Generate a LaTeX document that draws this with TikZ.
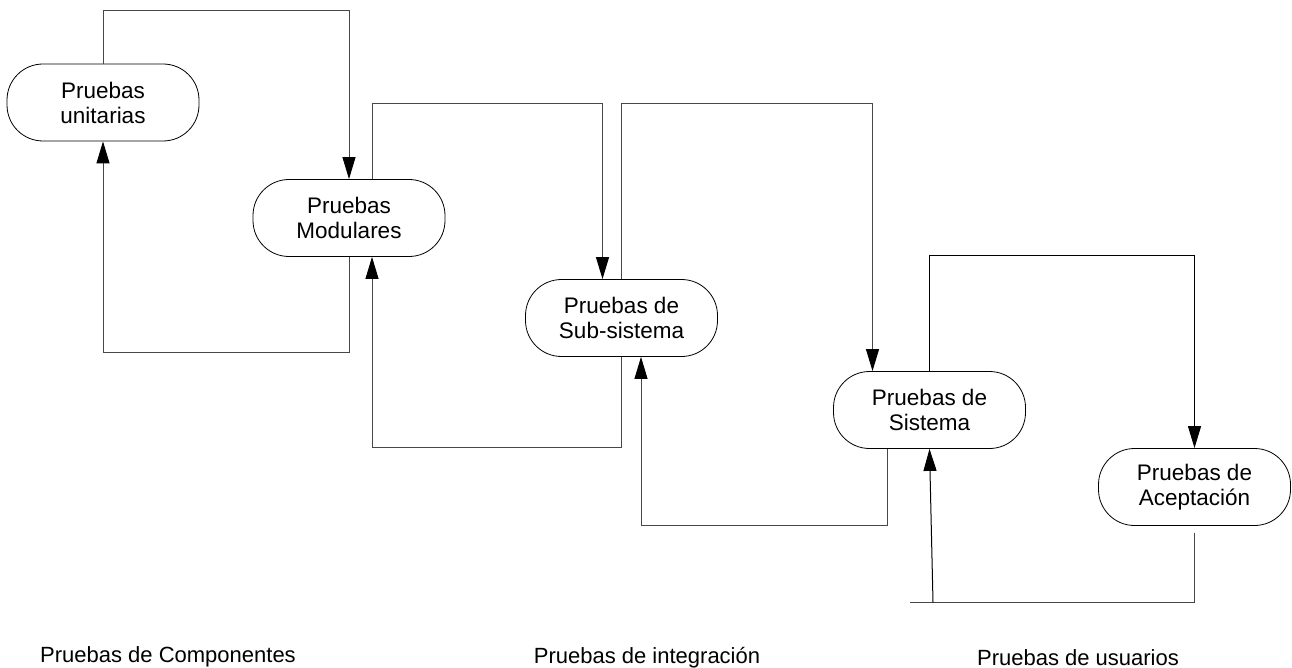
\documentclass[tikz,border=0pt]{standalone}
\usepackage{fontspec}
\setmainfont{Liberation Sans}
\usetikzlibrary{arrows.meta, positioning}

\begin{document}
\begin{tikzpicture}[x=1pt, y=-1pt, >={Triangle[length=22pt, width=13pt, color=black]},
		fase/.style={rectangle, rounded corners=36pt, draw=black, fill=white, line width=0.8pt, minimum width=192pt, minimum height=77pt, align=center, font=\fontsize{22.5}{25}\selectfont},
		flujo/.style={draw=black!72, line width=1pt},
		etiqueta/.style={anchor=base, font=\fontsize{22}{25}\selectfont}]
		
		\useasboundingbox (0,0) rectangle (1292,668);
		
		% Fases
		\node[fase] (unit) at (103, 102.5) {Pruebas\\unitarias};
		\node[fase] (modul) at (349, 218) {Pruebas\\Modulares};
		\node[fase] (subsis) at (621.5, 318) {Pruebas de\\Sub-sistema};
		\node[fase] (sis) at (929.5, 410) {Pruebas de\\Sistema};
		\node[fase] (acept) at (1194.5, 487) {Pruebas de\\Aceptaci\'on};
		
		% Puntos libres
		\coordinate (cola) at (910, 602.5);
		\coordinate (union) at (933, 602.5);
		
		% Avance
		\draw[flujo, ->] (unit.north) -- ++(0,-53) -| (modul.north);
		\draw[flujo, ->] ([xshift=23pt]modul.north) -- ++(0,-76) -| ([xshift=-19pt]subsis.north);
		\draw[flujo, ->] (subsis.north) -- ++(0,-176) -| ([xshift=-57pt]sis.north);
		\draw[flujo, draw=black, ->] (sis.north) -- ++(0,-116) -| (acept.north);
		
		% Retorno
		\draw[flujo, ->] (modul.south) -- ++(0,96) -| (unit.south);
		\draw[flujo, ->] (subsis.south) -- ++(0,91) -| ([xshift=23pt]modul.south);
		\draw[flujo, ->] ([xshift=-42pt]sis.south) -- ++(0,77) -| ([xshift=19.5pt]subsis.south);
		\draw[flujo] ([yshift=-7pt]acept.south) |- (cola);
		\draw[flujo, draw=black, ->] (union) -- (sis.south);
		
		% Grupos
		\node[etiqueta] (compo) at (168, 662) {Pruebas de Componentes};
		\node[etiqueta] (integ) at (647, 663) {Pruebas de integraci\'on};
		\node[etiqueta] (usua) at (1078, 665) {Pruebas de usuarios};
		
	\end{tikzpicture}
\end{document}
